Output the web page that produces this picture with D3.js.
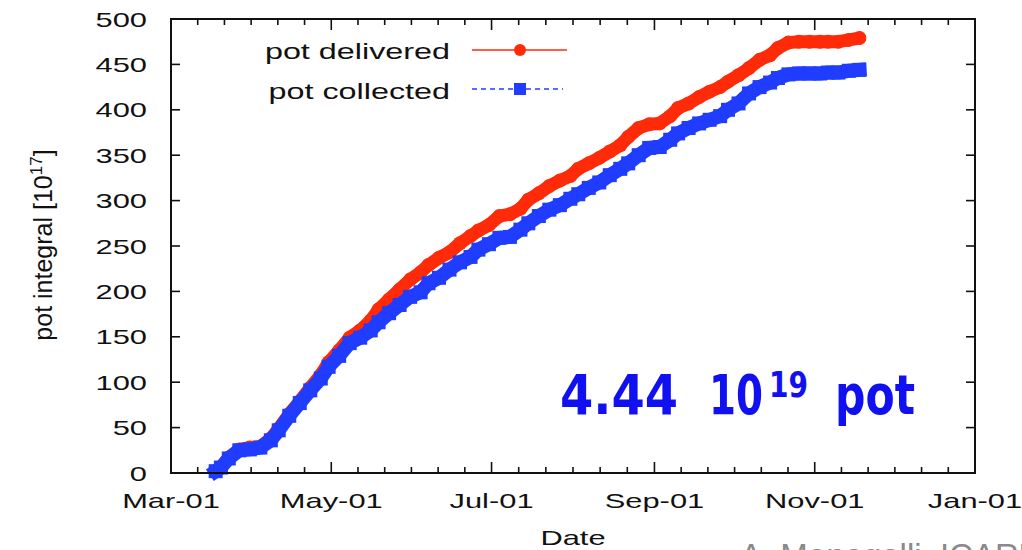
<!DOCTYPE html>
<html>
<head>
<meta charset="utf-8">
<script src="https://cdn.jsdelivr.net/npm/d3@7/dist/d3.min.js"></script>
<style>
  html, body { margin: 0; padding: 0; background: #ffffff; }
  svg { display: block; }
</style>
</head>
<body>
<script>
// Sampling dates of the cumulative proton-on-target record
const dates = [
  "2001-03-18","2001-03-20","2001-03-23","2001-03-27","2001-03-31","2001-04-04","2001-04-08","2001-04-11",
  "2001-04-15","2001-04-19","2001-04-23","2001-04-27","2001-04-30","2001-05-04","2001-05-08","2001-05-12",
  "2001-05-16","2001-05-19","2001-05-23","2001-05-27","2001-05-31","2001-06-04","2001-06-07","2001-06-11",
  "2001-06-15","2001-06-19","2001-06-23","2001-06-26","2001-06-30","2001-07-04","2001-07-08","2001-07-12",
  "2001-07-15","2001-07-19","2001-07-23","2001-07-27","2001-07-31","2001-08-03","2001-08-07","2001-08-11",
  "2001-08-15","2001-08-19","2001-08-22","2001-08-26","2001-08-30","2001-09-03","2001-09-07","2001-09-10",
  "2001-09-14","2001-09-18","2001-09-22","2001-09-26","2001-09-29","2001-10-03","2001-10-07","2001-10-11",
  "2001-10-15","2001-10-18","2001-10-22","2001-10-26","2001-10-30","2001-11-03","2001-11-06","2001-11-10",
  "2001-11-14","2001-11-18"
];

// pot delivered, in units of 1e17
const delivered = [
  2, 6, 17, 26, 28, 29, 38, 49, 65, 79, 94, 108, 122, 135, 149, 157,
  168, 180, 191, 202, 213, 221, 229, 237, 243, 253, 261, 267, 273, 283, 285, 291,
  301, 308, 316, 322, 327, 335, 341, 347, 354, 361, 370, 380, 384, 385, 393, 402,
  407, 414, 420, 425, 431, 438, 446, 455, 460, 468, 474, 475, 475, 475, 475, 475,
  477, 479
];

// pot collected, in units of 1e17
const collected = [
  2, 6, 16, 25, 26, 28, 36, 47, 63, 77, 91, 104, 117, 129, 143, 149,
  157, 166, 176, 185, 194, 199, 209, 215, 224, 232, 238, 246, 252, 259, 260, 268,
  275, 283, 290, 295, 302, 307, 314, 320, 328, 335, 341, 350, 358, 359, 367, 374,
  380, 385, 389, 393, 400, 407, 418, 425, 430, 435, 439, 440, 440, 440, 441, 441,
  443, 444
];

const seriesNames = ["pot delivered", "pot collected"];
const xTickLabels = ["Mar-01", "May-01", "Jul-01", "Sep-01", "Nov-01", "Jan-01"];
const yTicks = [0, 50, 100, 150, 200, 250, 300, 350, 400, 450, 500];
const totalLabel = ["4.44", "10", "19", "pot"];

const W = 1022, H = 550;
const plot = { left: 171, right: 975, top: 19, bottom: 473 };
const RED = "#ff2a08", BLUE = "#1f3cff";
const FONT = "'Liberation Sans', Arial, Helvetica, sans-serif";
const STRETCH = 1.47;

const parse = d3.timeParse("%Y-%m-%d");
const x = d3.scaleTime()
  .domain([parse("2001-03-01"), parse("2002-01-01")])
  .range([plot.left, plot.right]);
const y = d3.scaleLinear().domain([0, 500]).range([plot.bottom, plot.top]);

const svg = d3.select("body").append("svg")
  .attr("width", W).attr("height", H)
  .attr("viewBox", `0 0 ${W} ${H}`);

// horizontally widened text helper
function wideText(g, px, py, str, size, anchor) {
  return g.append("text")
    .attr("transform", `translate(${px},${py}) scale(${STRETCH},1)`)
    .attr("text-anchor", anchor)
    .attr("font-family", FONT)
    .attr("font-size", size)
    .attr("fill", "#111")
    .text(str);
}

// ----- ticks -----
const majorDates = x.ticks(d3.timeMonth.every(2));
const minorDates = [];
for (let i = 0; i < majorDates.length - 1; i++) {
  const a = +majorDates[i], b = +majorDates[i + 1];
  for (let k = 1; k < 6; k++) minorDates.push(new Date(a + (b - a) * k / 6));
}

const ticks = svg.append("g").attr("stroke", "#111").attr("stroke-width", 1.6);
majorDates.forEach(d => {
  const px = x(d);
  ticks.append("line").attr("x1", px).attr("x2", px).attr("y1", plot.bottom).attr("y2", plot.bottom - 11);
  ticks.append("line").attr("x1", px).attr("x2", px).attr("y1", plot.top).attr("y2", plot.top + 11);
});
minorDates.forEach(d => {
  const px = x(d);
  ticks.append("line").attr("x1", px).attr("x2", px).attr("y1", plot.bottom).attr("y2", plot.bottom - 6);
  ticks.append("line").attr("x1", px).attr("x2", px).attr("y1", plot.top).attr("y2", plot.top + 6);
});
yTicks.forEach(v => {
  const py = y(v);
  ticks.append("line").attr("x1", plot.left).attr("x2", plot.left + 9).attr("y1", py).attr("y2", py);
  ticks.append("line").attr("x1", plot.right).attr("x2", plot.right - 9).attr("y1", py).attr("y2", py);
});

// ----- tick labels -----
const labels = svg.append("g");
yTicks.forEach(v => wideText(labels, 147, y(v) + 7.5, String(v), 21, "end"));
majorDates.forEach((d, i) => wideText(labels, x(d), 508, xTickLabels[i], 21, "middle"));

// axis titles
wideText(labels, (plot.left + plot.right) / 2, 545, "Date", 21, "middle");
const yTitle = labels.append("text")
  .attr("transform", `translate(52,${(plot.top + plot.bottom) / 2 - 1}) rotate(-90)`)
  .attr("text-anchor", "middle")
  .attr("font-family", FONT)
  .attr("font-size", 25)
  .attr("fill", "#111");
yTitle.append("tspan").text("pot integral [10");
yTitle.append("tspan").attr("font-size", 17).attr("dy", -10).text("17");
yTitle.append("tspan").attr("dy", 10).text("]");

// ----- series -----
const rows = dates.map((d, i) => ({ date: parse(d), delivered: delivered[i], collected: collected[i] }));

const lineDel = d3.line().x(d => x(d.date)).y(d => y(d.delivered));
const lineCol = d3.line().x(d => x(d.date)).y(d => y(d.collected));

const gDel = svg.append("g");
gDel.append("path").datum(rows).attr("d", lineDel)
  .attr("fill", "none").attr("stroke", RED).attr("stroke-width", 13)
  .attr("stroke-linejoin", "round").attr("stroke-linecap", "round");
gDel.selectAll("circle").data(rows).join("circle")
  .attr("cx", d => x(d.date)).attr("cy", d => y(d.delivered)).attr("r", 7)
  .attr("fill", RED);

const gCol = svg.append("g");
gCol.append("path").datum(rows).attr("d", lineCol)
  .attr("fill", "none").attr("stroke", BLUE).attr("stroke-width", 14)
  .attr("stroke-linejoin", "miter").attr("stroke-linecap", "square");
gCol.selectAll("rect").data(rows).join("rect")
  .attr("x", d => x(d.date) - 7).attr("y", d => y(d.collected) - 7)
  .attr("width", 14).attr("height", 14)
  .attr("fill", BLUE);

// ----- frame -----
svg.append("rect")
  .attr("x", plot.left).attr("y", plot.top)
  .attr("width", plot.right - plot.left).attr("height", plot.bottom - plot.top)
  .attr("fill", "none").attr("stroke", "#111").attr("stroke-width", 2);

// ----- legend -----
const leg = svg.append("g");
wideText(leg, 450, 59, seriesNames[0], 22, "end");
wideText(leg, 450, 99, seriesNames[1], 22, "end");
leg.append("line").attr("x1", 472).attr("x2", 567).attr("y1", 50).attr("y2", 50)
  .attr("stroke", RED).attr("stroke-width", 1.3);
leg.append("circle").attr("cx", 520).attr("cy", 50).attr("r", 6).attr("fill", RED);
leg.append("line").attr("x1", 472).attr("x2", 563).attr("y1", 89).attr("y2", 89)
  .attr("stroke", BLUE).attr("stroke-width", 1.3).attr("stroke-dasharray", "5,4");
leg.append("rect").attr("x", 514).attr("y", 83).attr("width", 12).attr("height", 12).attr("fill", BLUE);

// ----- total annotation (one text, pieces as tspans) -----
const ann = svg.append("text")
  .attr("font-family", "'Liberation Sans Narrow', 'DejaVu Sans Condensed', 'Liberation Sans', sans-serif")
  .attr("font-weight", "bold")
  .attr("fill", "#1010f0");
ann.append("tspan").attr("x", 560).attr("y", 414).attr("font-size", 55)
  .attr("textLength", 118).attr("lengthAdjust", "spacingAndGlyphs").text(totalLabel[0]);
ann.append("tspan").attr("x", 709).attr("y", 414).attr("font-size", 55)
  .attr("textLength", 54).attr("lengthAdjust", "spacingAndGlyphs").text(totalLabel[1]);
ann.append("tspan").attr("x", 769).attr("y", 397).attr("font-size", 36)
  .attr("textLength", 39).attr("lengthAdjust", "spacingAndGlyphs").text(totalLabel[2]);
ann.append("tspan").attr("x", 835).attr("y", 414).attr("font-size", 55)
  .attr("textLength", 80).attr("lengthAdjust", "spacingAndGlyphs").text(totalLabel[3]);

// ----- credit line (runs off the lower edge) -----
svg.append("text")
  .attr("x", 740).attr("y", 567)
  .attr("font-family", FONT).attr("font-size", 33)
  .attr("fill", "#8a8a8a")
  .text("A. Menegolli, ICARUS");
</script>
</body>
</html>
